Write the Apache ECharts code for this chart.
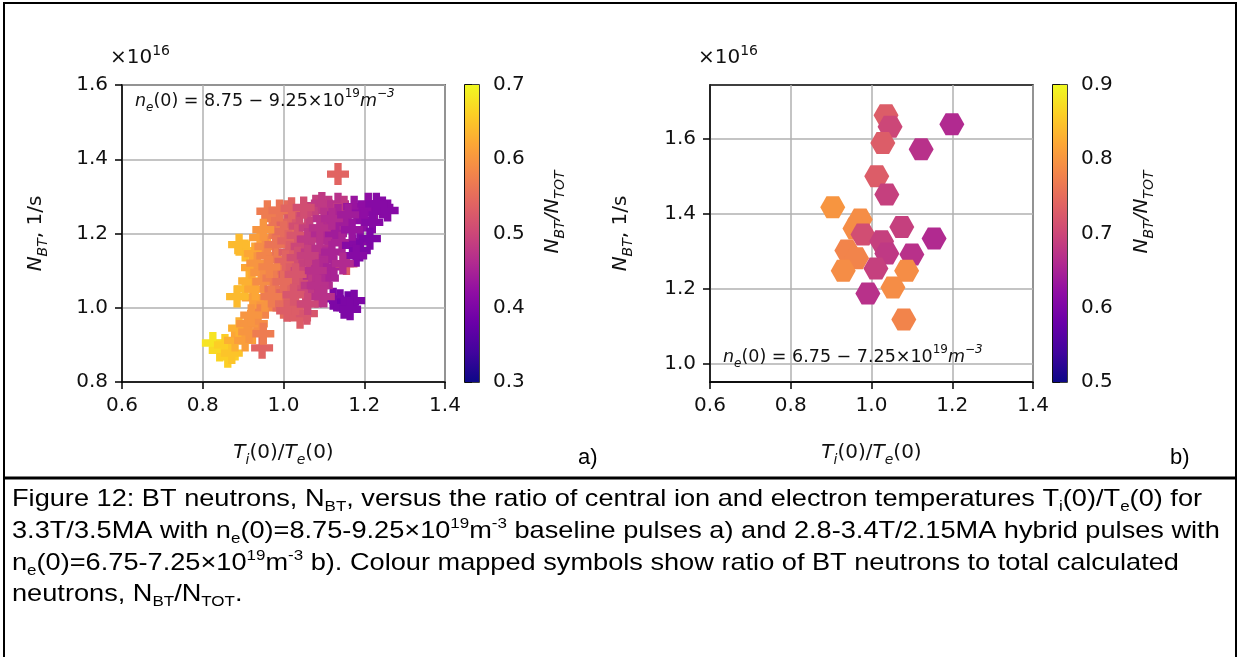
<!DOCTYPE html>
<html><head><meta charset="utf-8">
<script src="https://cdn.jsdelivr.net/npm/echarts@6/dist/echarts.min.js"></script>
<style>html,body{margin:0;padding:0;background:#fff}#c{width:1240px;height:657px}</style>
</head><body><div id="c"></div><script>
// ---- data (N_BT in units of 1e16 1/s) ----
const baselineTiTe = [0.825,0.842,0.855,0.862,0.872,0.880,0.897,0.890,0.905,0.915,0.947,0.934,0.910,0.937,0.955,0.954,0.924,0.905,0.915,0.930,0.922,0.905,0.929,0.935,0.945,0.942,0.955,0.960,0.950,0.972,0.975,0.990,0.980,0.985,0.990,0.975,0.980,0.990,1.000,1.009,1.010,1.000,1.012,1.015,1.005,1.015,1.020,1.010,1.009,1.041,1.058,1.030,1.030,1.040,1.035,1.045,1.035,1.045,1.040,1.055,1.060,1.065,1.060,1.070,1.065,1.075,1.070,1.085,1.080,1.095,1.112,1.100,1.115,1.095,1.110,1.090,1.105,1.095,1.110,1.125,1.120,1.135,1.150,1.135,1.150,1.130,1.145,1.135,1.156,1.175,1.195,1.210,1.225,1.245,1.258,1.200,1.220,1.172,1.190,1.214,1.189,1.180,1.123,1.140,1.160,1.175,1.150,1.165,1.147,1.095,
  0.960,0.990,1.020,1.050,0.950,0.965,0.970,1.000,1.030,1.025,1.060,1.080,1.090,1.120,1.160,1.170,1.085,1.100,0.920,0.950,0.885,0.890,1.230,1.060];
const baselineNBT = [0.905,0.885,0.900,0.868,0.878,0.912,0.930,0.945,0.912,0.935,0.892,0.957,0.957,0.984,1.000,1.019,1.027,1.051,1.072,1.050,1.108,1.154,1.146,1.120,1.095,1.189,1.165,1.140,1.070,1.243,1.215,1.195,1.170,1.130,1.100,1.080,1.050,1.020,1.000,1.260,1.230,1.205,1.180,1.150,1.125,1.090,1.060,1.040,0.992,0.973,0.984,1.010,1.250,1.220,1.195,1.165,1.135,1.100,1.070,1.040,1.255,1.215,1.185,1.150,1.120,1.085,1.060,1.030,1.275,1.282,1.272,1.240,1.215,1.200,1.180,1.160,1.135,1.105,1.080,1.110,1.150,1.280,1.272,1.250,1.230,1.200,1.175,1.360,1.118,1.272,1.255,1.280,1.260,1.270,1.262,1.235,1.230,1.168,1.178,1.186,1.154,1.140,1.024,1.020,1.015,1.019,1.000,0.996,1.119,1.060,
  1.260,1.262,1.268,1.270,1.210,1.110,1.030,1.070,1.090,1.035,1.010,1.100,1.215,1.240,1.250,1.210,1.060,1.030,0.980,0.930,1.030,1.170,1.280,1.140];
const baselineRatio = [0.68,0.67,0.66,0.66,0.65,0.63,0.62,0.63,0.61,0.60,0.54,0.59,0.60,0.59,0.58,0.60,0.61,0.64,0.63,0.62,0.62,0.64,0.62,0.60,0.60,0.61,0.59,0.58,0.59,0.57,0.56,0.57,0.56,0.57,0.56,0.57,0.56,0.55,0.55,0.55,0.54,0.55,0.54,0.53,0.54,0.53,0.53,0.54,0.53,0.53,0.52,0.53,0.52,0.51,0.52,0.50,0.51,0.50,0.51,0.50,0.50,0.49,0.48,0.48,0.49,0.47,0.48,0.47,0.49,0.48,0.48,0.47,0.46,0.46,0.46,0.47,0.46,0.46,0.45,0.45,0.45,0.47,0.48,0.45,0.44,0.44,0.45,0.54,0.53,0.43,0.42,0.42,0.42,0.41,0.41,0.42,0.41,0.41,0.41,0.40,0.40,0.41,0.40,0.40,0.39,0.40,0.40,0.40,0.46,0.46,
  0.57,0.56,0.54,0.51,0.60,0.58,0.57,0.55,0.52,0.52,0.50,0.47,0.47,0.46,0.44,0.43,0.47,0.47,0.60,0.57,0.64,0.64,0.41,0.49];

const hybridTiTe = [1.036,1.046,1.028,1.199,1.123,1.013,1.038,0.904,0.972,0.959,1.075,1.155,0.979,1.025,0.939,1.038,1.100,0.963,1.087,1.011,0.930,1.053,0.991,1.080];
const hybridNBT = [1.664,1.633,1.590,1.640,1.573,1.501,1.452,1.418,1.385,1.361,1.365,1.334,1.345,1.327,1.302,1.294,1.291,1.281,1.248,1.254,1.248,1.203,1.187,1.117];
const hybridRatio = [0.73,0.70,0.73,0.66,0.67,0.73,0.69,0.80,0.79,0.79,0.69,0.66,0.71,0.69,0.78,0.68,0.67,0.78,0.79,0.69,0.79,0.79,0.67,0.78];

const xTicks = [0.6, 0.8, 1.0, 1.2, 1.4];
const yTicksA = [0.8, 1.0, 1.2, 1.4, 1.6];
const yTicksB = [1.0, 1.2, 1.4, 1.6];
const cbarA = [0.3, 0.7];
const cbarB = [0.5, 0.9];

const plasma = ['#0d0887','#41049d','#6a00a8','#8f0da4','#b12a90','#cc4778','#e16462','#f2844b','#fca636','#fcce25','#f0f921'];

// ---- build ----
const FONT = 'DejaVu Sans';
const TXT = '#111';
const baseData = baselineTiTe.map((x, i) => [x, baselineNBT[i], baselineRatio[i]]);
const hybData = hybridTiTe.map((x, i) => [x, hybridNBT[i], hybridRatio[i]]);

const plusPath = 'path://M1,0L2,0L2,1L3,1L3,2L2,2L2,3L1,3L1,2L0,2L0,1L1,1Z';
const hexPath = 'path://M1,0L3,0L4,1.732L3,3.464L1,3.464L0,1.732Z';

const gradStops = plasma.map((c, i) => ({offset: i / (plasma.length - 1), color: plasma[plasma.length - 1 - i]}));

function cbarRender(params, api) {
  const p1 = api.coord([0, api.value(2)]);
  const p2 = api.coord([1, api.value(1)]);
  return {type: 'rect', shape: {x: p1[0], y: p1[1], width: p2[0] - p1[0], height: p2[1] - p1[1]},
    style: {fill: new echarts.graphic.LinearGradient(0, 0, 0, 1, gradStops)}};
}

const richMath = (fs, sub) => ({
  it: {fontStyle: 'italic', fontSize: fs, fontFamily: FONT, color: TXT, lineHeight: fs + 8},
  n: {fontSize: fs, fontFamily: FONT, color: TXT, lineHeight: fs + 8},
  sub: {fontStyle: 'italic', fontSize: sub, fontFamily: FONT, color: TXT, verticalAlign: 'bottom', lineHeight: sub + 2},
  sup: {fontSize: sub, fontFamily: FONT, color: TXT, verticalAlign: 'top', lineHeight: sub + 2}
});

function mainX(grid) {
  return {
    gridIndex: grid, type: 'value', min: xTicks[0], max: xTicks[xTicks.length - 1], interval: 0.2,
    axisLine: {onZero: false, lineStyle: {color: '#000', width: 1.5}},
    axisTick: {length: 7, lineStyle: {color: '#000', width: 1.5}},
    axisLabel: {margin: 14, fontSize: 20, fontFamily: FONT, color: TXT, formatter: v => v.toFixed(1)},
    splitLine: {show: true, lineStyle: {color: '#b0b0b0', width: 1.5}},
    name: '{it|T}{sub|i}{n|(0)/}{it|T}{sub|e}{n|(0)}', nameLocation: 'middle', nameGap: 57,
    nameTextStyle: {fontSize: 20, fontFamily: FONT, color: TXT, rich: richMath(20, 14)}
  };
}
function hiddenX(grid) {
  return {gridIndex: grid, type: 'value', min: 0, max: 1, show: false};
}
function mainY(grid, min, max, extra) {
  return Object.assign({
    gridIndex: grid, type: 'value', min: min, max: max,
    axisLine: {onZero: false, lineStyle: {color: '#000', width: 1.5}},
    axisTick: {length: 7, lineStyle: {color: '#000', width: 1.5}},
    axisLabel: {margin: 14, fontSize: 20, fontFamily: FONT, color: TXT, formatter: v => v.toFixed(1)},
    splitLine: {show: true, lineStyle: {color: '#b0b0b0', width: 1.5}},
    name: '{it|N}{sub|BT}{n|, 1/s}', nameLocation: 'middle', nameRotate: 90, nameGap: 72,
    nameTextStyle: {fontSize: 20, fontFamily: FONT, color: TXT, rich: richMath(20, 14)}
  }, extra || {});
}
function cbarY(grid, range) {
  return {
    gridIndex: grid, type: 'value', position: 'right', min: range[0], max: range[1], interval: 0.1,
    axisLine: {show: true, lineStyle: {color: '#000', width: 1.5}},
    axisTick: {show: true, length: 7, lineStyle: {color: '#000', width: 1.5}},
    axisLabel: {margin: 14, fontSize: 20, fontFamily: FONT, color: TXT, formatter: v => v.toFixed(1)},
    splitLine: {show: false}
  };
}

function mtext(x, y, text, fs, sub, extra) {
  return Object.assign({type: 'text', x: x, y: y, silent: true,
    style: {text: text, fontSize: fs, fontFamily: FONT, fill: TXT, align: 'left', verticalAlign: 'middle',
      rich: {
        it: {fontStyle: 'italic', fontSize: fs, fontFamily: FONT, fill: TXT, lineHeight: fs + 8},
        n: {fontSize: fs, fontFamily: FONT, fill: TXT, lineHeight: fs + 8},
        sub: {fontStyle: 'italic', fontSize: sub, fontFamily: FONT, fill: TXT, verticalAlign: 'bottom', lineHeight: sub + 2},
        sup: {fontSize: sub, fontFamily: FONT, fill: TXT, verticalAlign: 'top', lineHeight: sub + 2},
        supi: {fontStyle: 'italic', fontSize: sub, fontFamily: FONT, fill: TXT, verticalAlign: 'top', lineHeight: sub + 2}
      }}}, extra || {});
}

const CAPF = 'Liberation Sans';
const CAPS = 24;
const CAPX = 1.132;
function cap(y, text) {
  return {type: 'text', x: 12, y: y, scaleX: CAPX, silent: true,
    style: {text: text, fontSize: CAPS, fontFamily: CAPF, fill: '#000', align: 'left', verticalAlign: 'middle',
      rich: {
        n: {fontSize: CAPS, fontFamily: CAPF, fill: '#000', lineHeight: 30},
        sub: {fontSize: 15, fontFamily: CAPF, fill: '#000', verticalAlign: 'bottom', lineHeight: 15},
        sup: {fontSize: 15, fontFamily: CAPF, fill: '#000', verticalAlign: 'top', lineHeight: 15}
      }}};
}

const annot = '{it|n}{sub|e}{n|(0) = 8.75 − 9.25×10}{sup|19}{it|m}{supi|−3}';
const annotB = '{it|n}{sub|e}{n|(0) = 6.75 − 7.25×10}{sup|19}{it|m}{supi|−3}';
const cbLabel = '{it|N}{sub|BT}{it|/N}{sub|TOT}';

const cbA = mtext(553, 212, cbLabel, 20, 14, {rotation: Math.PI / 2});
cbA.style.align = 'center';
const cbB = mtext(1142, 212, cbLabel, 20, 14, {rotation: Math.PI / 2});
cbB.style.align = 'center';

const option = {
  backgroundColor: '#fff',
  animation: false,
  grid: [
    {left: 122, top: 85, width: 323, height: 297, show: true, borderColor: '#000', borderWidth: 1.5},
    {left: 465, top: 85, width: 14, height: 297, show: true, borderColor: '#000', borderWidth: 1.5},
    {left: 710, top: 85, width: 323, height: 297, show: true, borderColor: '#000', borderWidth: 1.5},
    {left: 1053, top: 85, width: 14, height: 297, show: true, borderColor: '#000', borderWidth: 1.5}
  ],
  xAxis: [mainX(0), hiddenX(1), mainX(2), hiddenX(3)],
  yAxis: [
    mainY(0, yTicksA[0], yTicksA[yTicksA.length - 1], {interval: 0.2}),
    cbarY(1, cbarA),
    mainY(2, 0.95, 1.745, {splitNumber: 4,
      axisTick: {length: 7, lineStyle: {color: '#000', width: 1.5}, customValues: yTicksB},
      axisLabel: {margin: 14, fontSize: 20, fontFamily: FONT, color: TXT, formatter: v => v.toFixed(1), customValues: yTicksB},
      nameGap: 75}),
    cbarY(3, cbarB)
  ],
  visualMap: [
    {type: 'continuous', show: false, seriesIndex: 0, dimension: 2, min: cbarA[0], max: cbarA[1], inRange: {color: plasma}},
    {type: 'continuous', show: false, seriesIndex: 2, dimension: 2, min: cbarB[0], max: cbarB[1], inRange: {color: plasma}}
  ],
  series: [
    {type: 'scatter', xAxisIndex: 0, yAxisIndex: 0, data: baseData, symbol: plusPath, symbolSize: 22, itemStyle: {opacity: 1}, z: 3},
    {type: 'custom', xAxisIndex: 1, yAxisIndex: 1, data: [[0, cbarA[0], cbarA[1]]], renderItem: cbarRender, silent: true, z: 1},
    {type: 'scatter', xAxisIndex: 2, yAxisIndex: 2, data: hybData, symbol: hexPath, symbolSize: [25, 22], itemStyle: {opacity: 1}, z: 3},
    {type: 'custom', xAxisIndex: 3, yAxisIndex: 3, data: [[0, cbarB[0], cbarB[1]]], renderItem: cbarRender, silent: true, z: 1}
  ],
  graphic: {elements: [
    mtext(110, 58, '{n|×10}{sup|16}', 20, 14),
    mtext(698, 58, '{n|×10}{sup|16}', 20, 14),
    mtext(135, 101, annot, 17.5, 12, {z: 10}),
    mtext(723, 357, annotB, 17.5, 12, {z: 10}),
    cbA, cbB,
    {type: 'text', x: 578, y: 458, style: {text: 'a)', fontSize: 22, fontFamily: CAPF, fill: '#000', verticalAlign: 'middle'}},
    {type: 'text', x: 1170, y: 458, style: {text: 'b)', fontSize: 22, fontFamily: CAPF, fill: '#000', verticalAlign: 'middle'}},
    cap(499, '{n|Figure 12: BT neutrons, N}{sub|BT}{n|, versus the ratio of central ion and electron temperatures T}{sub|i}{n|(0)/T}{sub|e}{n|(0) for}'),
    cap(531, '{n|3.3T/3.5MA with n}{sub|e}{n|(0)=8.75-9.25×10}{sup|19}{n|m}{sup|-3}{n| baseline pulses a) and 2.8-3.4T/2.15MA hybrid pulses with}'),
    cap(563, '{n|n}{sub|e}{n|(0)=6.75-7.25×10}{sup|19}{n|m}{sup|-3}{n| b). Colour mapped symbols show ratio of BT neutrons to total calculated}'),
    cap(594, '{n|neutrons, N}{sub|BT}{n|/N}{sub|TOT}{n|.}'),
    {type: 'rect', shape: {x: 4, y: 3, width: 1232, height: 660}, style: {fill: 'none', stroke: '#000', lineWidth: 2}, silent: true},
    {type: 'line', shape: {x1: 4, y1: 478, x2: 1236, y2: 478}, style: {stroke: '#000', lineWidth: 3}, silent: true}
  ]}
};

const chart = echarts.init(document.getElementById('c'), null, {renderer: 'canvas'});
chart.setOption(option);
</script></body></html>
